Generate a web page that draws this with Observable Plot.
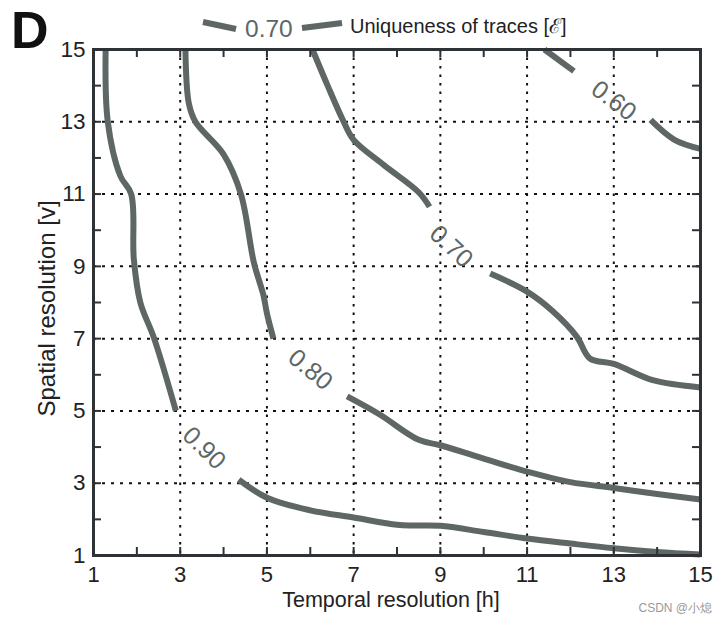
<!DOCTYPE html>
<html>
<head>
<meta charset="utf-8">
<script src="https://cdn.jsdelivr.net/npm/d3@7"></script>
<script src="https://cdn.jsdelivr.net/npm/@observablehq/plot@0.6"></script>
<style>
  body { margin: 0; background: #fff; }
  #wrap { position: relative; width: 728px; height: 624px; font-family: "Liberation Sans", Arial, sans-serif; }
  #overlay { position: absolute; left: 0; top: 0; pointer-events: none; }
</style>
</head>
<body>
<div id="wrap">
  <div id="chart"></div>
  <svg id="overlay" width="728" height="624"></svg>
</div>
<script>
// ---- data ----
const xTicks = [1, 3, 5, 7, 9, 11, 13, 15];
const yTicks = [1, 3, 5, 7, 9, 11, 13, 15];
const gridVals = [3, 5, 7, 9, 11, 13];
const minorTicks = [2, 3, 4, 5, 6, 7, 8, 9, 10, 11, 12, 13, 14];

// contour 0.90 (two pieces, split by the label)
const c90a = [[1.28,15],[1.33,13],[1.62,11.5],[1.87,11],[1.93,9.2],[2.08,8],[2.4,7],[2.9,5]];
const c90b = [[4.35,3.1],[5,2.6],[6,2.25],[7,2.05],[8,1.85],[8.4,1.83],[9,1.82],[10,1.65],[11,1.47],[12,1.33],[13,1.2],[14,1.1],[15,1.03]];
// contour 0.80
const c80a = [[3.12,15],[3.2,13.5],[3.35,13],[4.0,12.1],[4.4,11],[4.7,9.1],[4.92,8.2],[5.0,7.7],[5.15,7]];
const c80b = [[6.85,5.4],[7.6,4.9],[8.5,4.2],[9,4.05],[10,3.68],[11,3.32],[12,3.03],[13,2.87],[14,2.7],[15,2.55]];
// contour 0.70
const c70a = [[6.05,15],[6.4,14],[6.77,13],[7,12.5],[7.7,11.8],[8.5,11.05],[8.75,10.65]];
const c70b = [[10.15,8.8],[11,8.3],[11.6,7.75],[12.15,7.05],[12.45,6.45],[13,6.3],[13.9,5.85],[15,5.65]];
// contour 0.60
const c60a = [[11.4,15],[12.08,14.4]];
const c60b = [[13.85,13.05],[14.4,12.5],[15,12.25]];

const labelText = ["0.90", "0.80", "0.70", "0.60"];
const labelX = [3.55, 6.0, 9.25, 13.0];
const labelY = [3.97, 6.14, 9.55, 13.58];
const labelAngle = [44, 40, 43, 37];

const xTitle = "Temporal resolution [h]";
const yTitle = "Spatial resolution [v]";
const panelLetter = "D";
const legendValue = "0.70";
const legendTitle = "Uniqueness of traces [\u2130]";
const watermark = "CSDN @小熄";

// ---- build tables ----
const segments = {c90a, c90b, c80a, c80b, c70a, c70b, c60a, c60b};
const rows = [];
for (const [seg, pts] of Object.entries(segments)) {
  for (const [x, y] of pts) rows.push({seg, x, y});
}
const labels = labelText.map((t, i) => ({text: t, x: labelX[i], y: labelY[i], rotate: labelAngle[i]}));

// ---- layout ----
const W = 728, H = 624, mL = 93, mR = 28, mT = 49, mB = 69;
const ux = (W - mL - mR) / 14, uy = (H - mT - mB) / 14;
const tickLen = 8;
const lineColor = "#5e6666";
const frameColor = "#2e3236";
const font = "'Liberation Sans', Arial, sans-serif";

const chart = Plot.plot({
  width: W, height: H,
  marginLeft: mL, marginRight: mR, marginTop: mT, marginBottom: mB,
  x: {domain: [1, 15]},
  y: {domain: [1, 15]},
  style: {fontFamily: font, background: "transparent", color: "#222"},
  marks: [
    Plot.gridX(gridVals, {stroke: "#111", strokeOpacity: 1, strokeWidth: 2, strokeDasharray: "2.5,6"}),
    Plot.gridY(gridVals, {stroke: "#111", strokeOpacity: 1, strokeWidth: 2, strokeDasharray: "3,6"}),
    Plot.line(rows, {x: "x", y: "y", z: "seg", stroke: lineColor, strokeWidth: 6, curve: "catmull-rom", strokeLinecap: "butt", strokeLinejoin: "round"}),
    Plot.text(labels, {x: "x", y: "y", text: "text", rotate: "rotate", fill: lineColor, fontSize: 25}),
    Plot.ruleX(minorTicks, {x: d => d, y1: 1, y2: 1 + tickLen / uy, stroke: frameColor, strokeWidth: 2}),
    Plot.ruleX(minorTicks, {x: d => d, y1: 15, y2: 15 - tickLen / uy, stroke: frameColor, strokeWidth: 2}),
    Plot.ruleY(minorTicks, {y: d => d, x1: 1, x2: 1 + tickLen / ux, stroke: frameColor, strokeWidth: 2}),
    Plot.ruleY(minorTicks, {y: d => d, x1: 15, x2: 15 - tickLen / ux, stroke: frameColor, strokeWidth: 2}),
    Plot.frame({stroke: frameColor, strokeWidth: 3}),
    Plot.axisX(xTicks, {tickSize: 0, tickPadding: 11, fontSize: 22, label: null, fill: "#222"}),
    Plot.axisY(yTicks, {tickSize: 0, tickPadding: 8, fontSize: 22.5, label: null, fill: "#222"}),
    Plot.text([xTitle], {text: d => d, frameAnchor: "bottom", dx: -6, dy: 51, fontSize: 21.5, fill: "#222"}),
    Plot.text([yTitle], {text: d => d, frameAnchor: "left", textAnchor: "middle", dx: -46, dy: 6, rotate: -90, fontSize: 24, fill: "#222"})
  ]
});
document.getElementById("chart").appendChild(chart);

// ---- header decorations: panel letter, contour legend, watermark ----
const ov = d3.select("#overlay").style("font-family", font);
ov.append("text").attr("x", 11).attr("y", 48).attr("font-size", 52).attr("font-weight", "bold").attr("fill", "#111").text(panelLetter);
ov.append("line").attr("x1", 203).attr("y1", 22).attr("x2", 236).attr("y2", 29).attr("stroke", lineColor).attr("stroke-width", 6);
ov.append("text").attr("x", 245).attr("y", 37).attr("font-size", 24.5).attr("fill", lineColor).text(legendValue);
ov.append("line").attr("x1", 302).attr("y1", 28).attr("x2", 342).attr("y2", 23).attr("stroke", lineColor).attr("stroke-width", 6);
ov.append("text").attr("x", 350).attr("y", 33).attr("font-size", 20).attr("fill", "#222").text(legendTitle);
ov.append("text").attr("x", 712).attr("y", 612).attr("font-size", 12).attr("text-anchor", "end").attr("fill", "#999").text(watermark);
</script>
</body>
</html>
